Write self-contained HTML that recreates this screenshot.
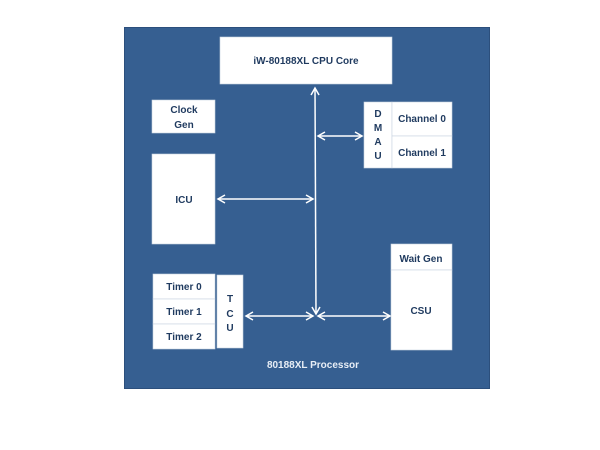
<!DOCTYPE html>
<html><head><meta charset="utf-8"><style>
html,body{margin:0;padding:0;background:#fff;}
svg{display:block;}
text{font-family:"Liberation Sans",sans-serif;font-weight:bold;font-size:10px;fill:#1f3a5f;text-anchor:middle;}
</style></head><body>
<svg width="600" height="450" viewBox="0 0 600 450" xmlns="http://www.w3.org/2000/svg">
<defs>
<marker id="a" markerWidth="10" markerHeight="10" refX="8" refY="5" orient="auto-start-reverse" markerUnits="userSpaceOnUse">
<path d="M1,1 L8,5 L1,9" fill="none" stroke="#fff" stroke-width="1.5"/>
</marker>
</defs>
<rect x="124.5" y="27.5" width="365" height="361" fill="#365f91" stroke="#2c4f7c" stroke-width="1"/>
<g fill="#fff" stroke="#c8d3e0" stroke-width="0.6">
<rect x="220" y="37" width="172" height="47"/>
<rect x="152" y="100" width="63" height="33"/>
<rect x="152" y="154" width="63" height="90"/>
<rect x="364" y="102" width="28" height="66"/>
<rect x="392" y="102" width="60" height="34"/>
<rect x="392" y="136" width="60" height="32"/>
<rect x="153" y="274" width="62" height="25"/>
<rect x="153" y="299" width="62" height="25"/>
<rect x="153" y="324" width="62" height="25"/>
<rect x="217" y="275" width="26" height="73"/>
<rect x="391" y="244" width="61" height="26"/>
<rect x="391" y="270" width="61" height="80"/>
</g>
<g stroke="#fff" stroke-width="1.5" fill="none">
<line x1="315" y1="88" x2="316" y2="314" marker-start="url(#a)" marker-end="url(#a)"/>
<line x1="318" y1="136" x2="362" y2="136" marker-start="url(#a)" marker-end="url(#a)"/>
<line x1="218" y1="199" x2="313" y2="199" marker-start="url(#a)" marker-end="url(#a)"/>
<line x1="246" y1="316" x2="313" y2="316" marker-start="url(#a)" marker-end="url(#a)"/>
<line x1="318" y1="316" x2="390" y2="316" marker-start="url(#a)" marker-end="url(#a)"/>
</g>
<text x="306" y="64">iW-80188XL CPU Core</text>
<text x="184" y="113">Clock</text>
<text x="184" y="128">Gen</text>
<text x="184" y="203">ICU</text>
<text x="378" y="117">D</text>
<text x="378" y="131">M</text>
<text x="378" y="145">A</text>
<text x="378" y="159">U</text>
<text x="422" y="122">Channel 0</text>
<text x="422" y="156">Channel 1</text>
<text x="184" y="290">Timer 0</text>
<text x="184" y="315">Timer 1</text>
<text x="184" y="340">Timer 2</text>
<text x="230" y="302">T</text>
<text x="230" y="317">C</text>
<text x="230" y="331">U</text>
<text x="421" y="262">Wait Gen</text>
<text x="421" y="314">CSU</text>
<text x="313" y="368" style="fill:#e8eef6">80188XL Processor</text>
</svg>
</body></html>
